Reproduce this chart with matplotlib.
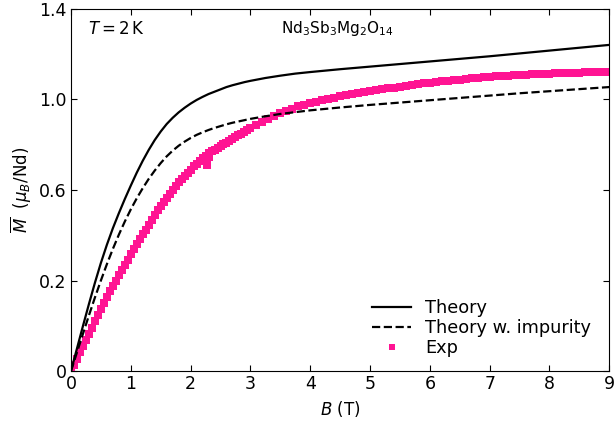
import numpy as np
import matplotlib
matplotlib.use('Agg')
import matplotlib.pyplot as plt

# field (T) and magnetisation (axis units)
B_theory = [0, 0.1, 0.2, 0.3, 0.4, 0.5, 0.6, 0.7, 0.8, 0.9, 1.0, 1.1, 1.2, 1.3,
            1.4, 1.5, 1.6, 1.7, 1.8, 1.9, 2.0, 2.1, 2.2, 2.3, 2.4, 2.5, 2.6,
            2.7, 2.8, 2.9, 3.0, 3.25, 3.5, 3.75, 4.0, 4.5, 5.0, 5.5, 6.0, 6.5,
            7.0, 7.5, 8.0, 8.5, 9.0]
M_theory = [0, 0.087, 0.174, 0.259, 0.341, 0.418, 0.488, 0.552, 0.610, 0.665,
            0.717, 0.767, 0.813, 0.855, 0.893, 0.926, 0.955, 0.979, 1.000,
            1.018, 1.034, 1.048, 1.060, 1.071, 1.080, 1.089, 1.098, 1.105,
            1.111, 1.117, 1.122, 1.133, 1.142, 1.150, 1.156, 1.167, 1.177,
            1.187, 1.197, 1.207, 1.217, 1.228, 1.239, 1.250, 1.261]
M_impurity = [0, 0.072, 0.144, 0.215, 0.284, 0.350, 0.413, 0.472, 0.527, 0.578,
              0.625, 0.668, 0.707, 0.743, 0.775, 0.804, 0.830, 0.852, 0.871,
              0.887, 0.901, 0.913, 0.923, 0.932, 0.940, 0.947, 0.954, 0.960,
              0.965, 0.970, 0.975, 0.985, 0.994, 1.001, 1.008, 1.019, 1.029,
              1.038, 1.047, 1.056, 1.065, 1.074, 1.082, 1.090, 1.098]

B_exp = [0.0, 0.05, 0.1, 0.15, 0.2, 0.25, 0.3, 0.35, 0.4, 0.45, 0.5, 0.55,
         0.6, 0.65, 0.7, 0.75, 0.8, 0.85, 0.9, 0.95, 1.0, 1.05, 1.1, 1.15,
         1.2, 1.25, 1.3, 1.35, 1.4, 1.45, 1.5, 1.55, 1.6, 1.65, 1.7, 1.75,
         1.8, 1.85, 1.9, 1.95, 2.0, 2.05, 2.1, 2.15, 2.2, 2.25, 2.27, 2.3,
         2.31, 2.35, 2.4, 2.45, 2.5, 2.55, 2.6, 2.65, 2.7, 2.75, 2.8, 2.85,
         2.9, 2.95, 3.0, 3.1, 3.2, 3.3, 3.4, 3.5, 3.6, 3.7, 3.8, 3.9, 4.0,
         4.1, 4.2, 4.3, 4.4, 4.5, 4.6, 4.7, 4.8, 4.9, 5.0, 5.1, 5.2, 5.3, 5.4,
         5.5, 5.6, 5.7, 5.8, 5.9, 6.0, 6.1, 6.2, 6.3, 6.4, 6.5, 6.6, 6.7, 6.8,
         6.9, 7.0, 7.1, 7.2, 7.3, 7.4, 7.5, 7.6, 7.7, 7.8, 7.9, 8.0, 8.1, 8.2,
         8.3, 8.4, 8.5, 8.6, 8.7, 8.8, 8.9, 9.0]
M_exp = [0.000, 0.024, 0.048, 0.072, 0.096, 0.120, 0.144, 0.168, 0.192, 0.216,
         0.240, 0.264, 0.287, 0.309, 0.330, 0.350, 0.370, 0.390, 0.410, 0.431,
         0.452, 0.471, 0.490, 0.509, 0.528, 0.547, 0.566, 0.585, 0.603, 0.621,
         0.638, 0.654, 0.670, 0.686, 0.701, 0.716, 0.730, 0.743, 0.755, 0.767,
         0.779, 0.791, 0.802, 0.813, 0.823, 0.833, 0.797, 0.842, 0.829, 0.849,
         0.856, 0.863, 0.870, 0.877, 0.883, 0.890, 0.897, 0.904, 0.911, 0.918,
         0.925, 0.932, 0.939, 0.952, 0.964, 0.976, 0.987, 0.997, 1.006, 1.015,
         1.023, 1.030, 1.036, 1.042, 1.047, 1.052, 1.057, 1.062, 1.066, 1.070,
         1.074, 1.078, 1.082, 1.086, 1.089, 1.093, 1.096, 1.099, 1.103, 1.106,
         1.109, 1.112, 1.114, 1.117, 1.120, 1.122, 1.125, 1.127, 1.130, 1.132,
         1.134, 1.136, 1.138, 1.139, 1.141, 1.142, 1.144, 1.145, 1.146, 1.147,
         1.148, 1.149, 1.150, 1.151, 1.152, 1.153, 1.154, 1.154, 1.155, 1.156,
         1.156, 1.157, 1.157]

xticks = list(range(10))
yticks = [0, 0.35, 0.7, 1.05, 1.4]
ytick_labels = ['0', '0.2', '0.6', '1.0', '1.4']

fig = plt.figure(figsize=(6.14, 4.26), dpi=100)
ax = fig.add_axes([0.1156, 0.129, 0.8767, 0.850])

ax.plot(B_exp, M_exp, 's', color='deeppink', markersize=5.2, markeredgewidth=0,
        label='Exp', zorder=2)
ax.plot(B_theory, M_theory, 'k-', linewidth=1.6, label='Theory', zorder=3)
ax.plot(B_theory, M_impurity, 'k--', linewidth=1.6, label='Theory w. impurity', zorder=3)

ax.set_xlim(0, 9)
ax.set_ylim(0, 1.4)
ax.set_xticks(xticks)
ax.set_yticks(yticks)
ax.set_yticklabels(ytick_labels)
ax.tick_params(direction='in', top=True, right=True, length=4, labelsize=12.5, pad=3)

ax.set_xlabel(r'$B$ (T)', fontsize=12)
ax.set_ylabel(r'$\overline{M}$  ($\mu_B$/Nd)', fontsize=12, labelpad=4)

ax.text(0.032, 0.945, r'$T = 2\,\mathrm{K}$', transform=ax.transAxes,
        fontsize=12, va='center')
ax.text(0.39, 0.945, r'Nd$_3$Sb$_3$Mg$_2$O$_{14}$', transform=ax.transAxes,
        fontsize=11, va='center')

handles, labels = ax.get_legend_handles_labels()
order = [1, 2, 0]
ax.legend([handles[i] for i in order], [labels[i] for i in order],
          loc='lower right', bbox_to_anchor=(1.0, -0.01), frameon=False,
          fontsize=12.8, numpoints=1, markerscale=0.8, labelspacing=0.1,
          handlelength=2.2, borderaxespad=0.6)

fig.savefig('out.png', dpi=100)
